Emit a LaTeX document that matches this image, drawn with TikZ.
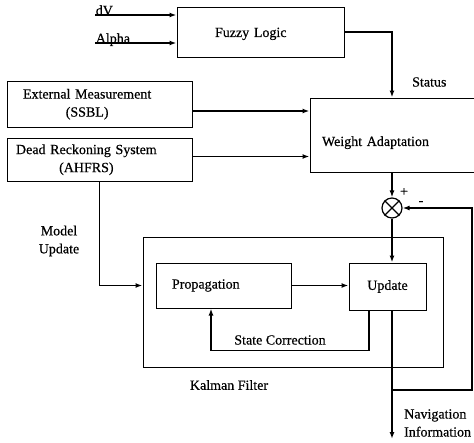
\documentclass[tikz,border=0pt]{standalone}
\usepackage{fontspec}
\setmainfont{Liberation Serif}[FakeBold=0.5]
\usetikzlibrary{calc, positioning}
\usetikzlibrary{arrows.meta}

\begin{document}
\begin{tikzpicture}[x=1pt, y=-1pt,
  every node/.style={font=\fontsize{14}{18}\selectfont},
  box/.style={draw, line width=1pt, inner sep=0pt},
  conn/.style={line width=1.6pt, -{Latex[length=7pt,width=5pt]}},
  lbl/.style={inner sep=0pt}]
\useasboundingbox (0,0) rectangle (474,442);
\clip (0,0) rectangle (474,442);

\node[box, minimum width=167pt, minimum height=50pt, text width=91pt, align=left, text height=13pt] (fuzzy) at (260.5,32) {Fuzzy Logic};
\node[box, minimum width=170pt, minimum height=74pt, text width=146pt, align=left, text height=25pt] (weight) at (395,135) {Weight Adaptation};
\node[box, minimum width=185pt, minimum height=46pt, text width=153pt, align=left] (ext) at (99.5,104)
  {\begin{tabular}{@{}c@{}}External Measurement\\(SSBL)\end{tabular}};
\node[box, minimum width=185pt, minimum height=43pt, text width=167pt, align=left] (dr) at (99.5,159.5)
  {\begin{tabular}{@{}c@{}}Dead Reckoning System\\(AHFRS)\end{tabular}};
\node[box, minimum width=300pt, minimum height=130pt] (kf) at (293,302) {};
\node[box, minimum width=135pt, minimum height=45pt, text width=103pt, align=left] (prop) at (223.5,285.5) {Propagation};
\node[box, minimum width=77pt, minimum height=47pt] (upd) at (387.5,286.5) {Update};
\node[draw, circle, minimum size=20pt, inner sep=0pt, line width=1.2pt] (sum) at (392,208) {};
\draw[line width=1.2pt] (sum.north east) -- (sum.south west) (sum.north west) -- (sum.south east);

\coordinate (dvin) at (95,15);
\coordinate (alin) at (95,43);
\draw[conn] (dvin) node[lbl, anchor=base west] {dV} -- (dvin -| fuzzy.west);
\draw[conn] (alin) node[lbl, anchor=base west] {Alpha} -- (alin -| fuzzy.west);
\draw[conn] (fuzzy.east) -| (sum |- weight.north);
\node[lbl, anchor=west] (status) at (412,82) {Status};

\draw[conn] ([yshift=-7pt]ext.east) -- ([yshift=-7pt]ext.east -| weight.west);
\draw[conn] ([yshift=3pt]dr.east) -- ([yshift=3pt]dr.east -| weight.west);
\draw[conn] (dr.south) |- (kf.west |- prop.west);
\node[lbl, align=center] (mulbl) at (59,241) {Model\\Update};

\draw[conn] (weight.south -| sum) -- (sum.north);
\node[lbl] (plus) at (404,192) {+};
\node[lbl] (minus) at (421,203) {-};
\draw[conn] (sum.south) -- (sum.south |- upd.north);
\draw[conn] (prop.east) -- (prop.east -| upd.west);
\draw[conn] ([xshift=-18.5pt]upd.south) -- ++(0,40) -| ([xshift=-12.5pt]prop.south);
\node[lbl] (sclbl) at (280,340) {State Correction};
\node[lbl] (kflbl) at (229,385) {Kalman Filter};

\coordinate (navsplit) at (392,390);
\coordinate (fbc) at ([xshift=80pt]sum.center);
\draw[conn] (upd.south -| sum) -- (392,439);
\draw[conn] (navsplit) -| (fbc) -- (sum.east);
\node[lbl, anchor=west, align=left] (navlbl) at (404,423) {Navigation\\Information};
\end{tikzpicture}
\end{document}
